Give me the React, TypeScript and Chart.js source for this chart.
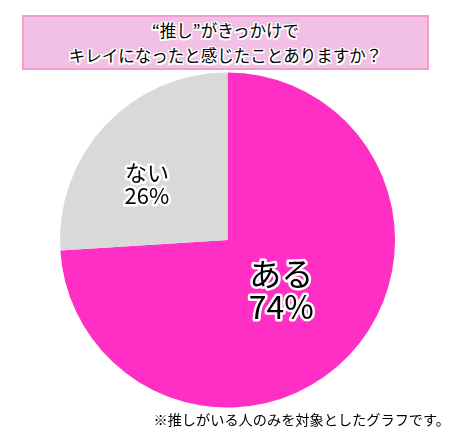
import { useEffect, useRef } from 'react';
import { Chart, registerables, Plugin } from 'chart.js';

Chart.register(...registerables);

const categories = ['ある', 'ない'];
const values = [74, 26];
const colors = ['#FF2EC4', '#D9D9D9'];
const titleLines = ['“推し”がきっかけで', 'キレイになったと感じたことありますか？'];
const footnote = '※推しがいる人のみを対象としたグラフです。';

const FONT = '"Noto Sans CJK JP", "Noto Sans", sans-serif';

// where each label sits inside its slice (fraction of radius, angle shift in degrees)
const labelPlace = [
  { r: 0.44, shift: 0, size: 32, gap: 33 },
  { r: 0.585, shift: -8.5, size: 22, gap: 23 },
];

const outlineText = (n: number) =>
  [
    `${n}px 0 0 #fff`, `-${n}px 0 0 #fff`, `0 ${n}px 0 #fff`, `0 -${n}px 0 #fff`,
    `${n}px ${n}px 0 #fff`, `-${n}px ${n}px 0 #fff`, `${n}px -${n}px 0 #fff`, `-${n}px -${n}px 0 #fff`,
  ].join(', ');

const sliceLabels: Plugin<'pie'> = {
  id: 'sliceLabels',
  afterDatasetsDraw(chart) {
    const { ctx } = chart;
    const meta = chart.getDatasetMeta(0);
    meta.data.forEach((el: any, i) => {
      const p = labelPlace[i];
      const mid = (el.startAngle + el.endAngle) / 2 + (p.shift * Math.PI) / 180;
      const cx = el.x + Math.cos(mid) * el.outerRadius * p.r;
      const cy = el.y + Math.sin(mid) * el.outerRadius * p.r;
      const lines = [categories[i], `${values[i]}%`];
      ctx.save();
      ctx.font = `${p.size}px ${FONT}`;
      ctx.textAlign = 'center';
      ctx.textBaseline = 'middle';
      ctx.lineJoin = 'round';
      lines.forEach((t, k) => {
        const y = cy + (k - 0.5) * p.gap;
        ctx.strokeStyle = '#fff';
        ctx.lineWidth = 5;
        ctx.strokeText(t, cx, y);
        ctx.fillStyle = '#000';
        ctx.fillText(t, cx, y);
      });
      ctx.restore();
    });
  },
};

export default function App() {
  const canvasRef = useRef<HTMLCanvasElement>(null);

  useEffect(() => {
    document.body.style.margin = '0';
    if (!canvasRef.current) return;
    const chart = new Chart(canvasRef.current, {
      type: 'pie',
      data: {
        labels: categories,
        datasets: [
          {
            data: values,
            backgroundColor: colors,
            borderWidth: 0,
          },
        ],
      },
      options: {
        animation: false,
        responsive: false,
        layout: { padding: { left: 60, right: 57, top: 72, bottom: 23 } },
        plugins: {
          legend: { display: false },
          tooltip: { enabled: false },
        },
      },
      plugins: [sliceLabels],
    });
    return () => chart.destroy();
  }, []);

  return (
    <div style={{ position: 'relative', width: 452, height: 431, background: '#fff', fontFamily: FONT }}>
      <canvas ref={canvasRef} width={452} height={431} style={{ position: 'absolute', left: 0, top: 0 }} />
      <div
        style={{
          position: 'absolute',
          left: 22,
          top: 15,
          width: 403,
          height: 50,
          background: '#F2C0E4',
          border: '2px solid #EE9FD0',
          textAlign: 'center',
          fontSize: 16.5,
          lineHeight: '25px',
          color: '#000',
          textShadow: outlineText(1.5),
          paddingTop: 1,
        }}
      >
        {titleLines.map((t) => (
          <div key={t}>{t}</div>
        ))}
      </div>
      <div
        style={{
          position: 'absolute',
          right: 2,
          top: 408,
          fontSize: 14.2,
          lineHeight: '22px',
          color: '#000',
          whiteSpace: 'nowrap',
        }}
      >
        {footnote}
      </div>
    </div>
  );
}
